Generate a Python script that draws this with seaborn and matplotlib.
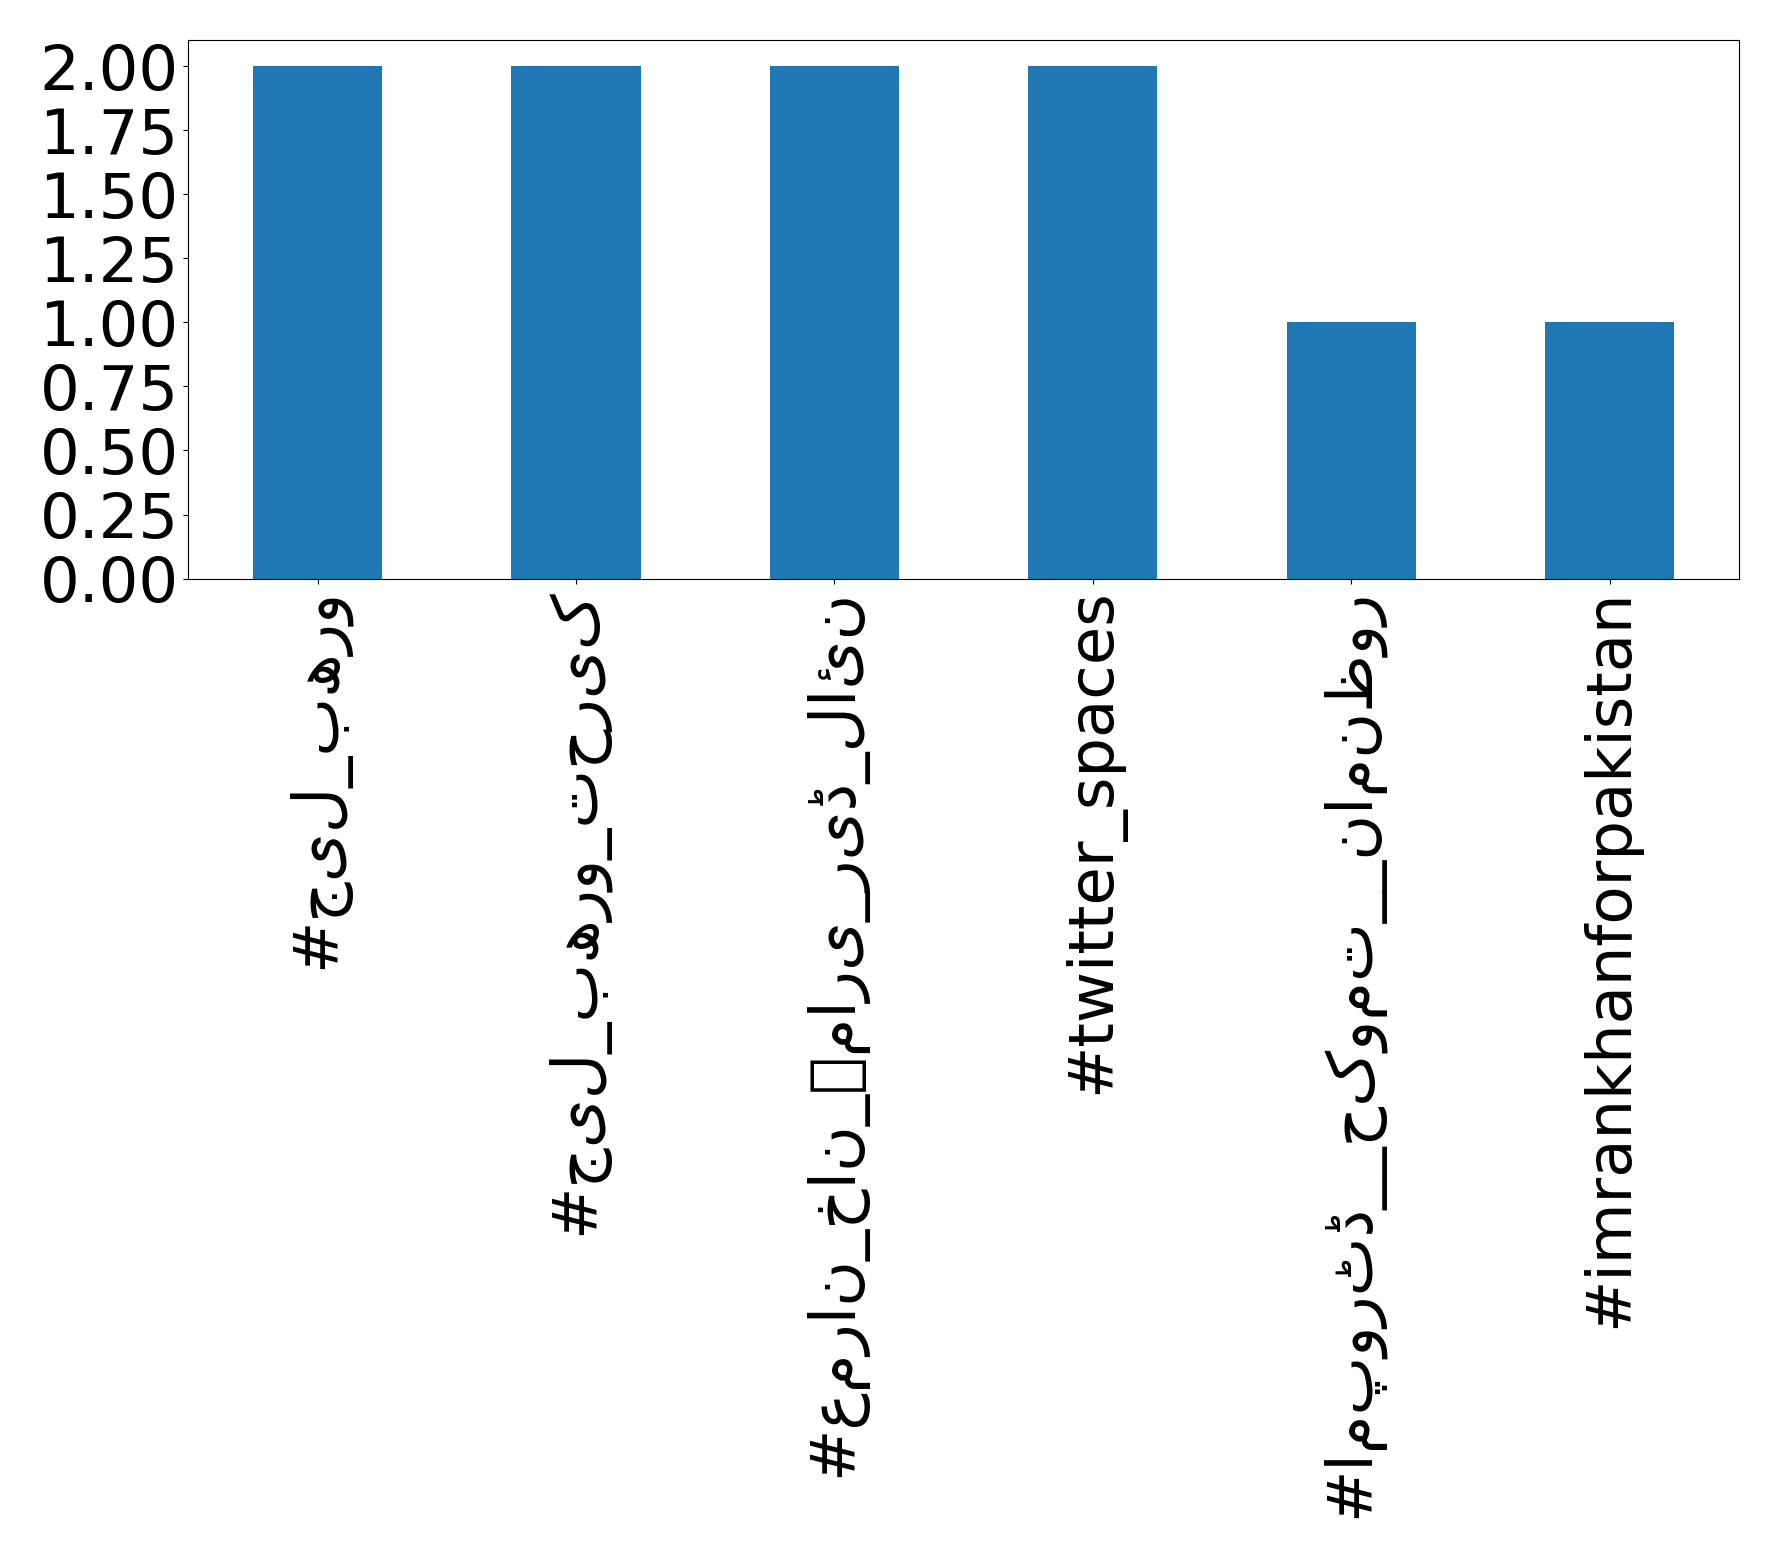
import matplotlib
matplotlib.use("Agg")
import matplotlib.pyplot as plt
import seaborn as sns
import pandas as pd

hashtags = [
    "#جیل_بھرو",
    "#جیل_بھرو_تحریک",
    "#عمران_خان_ہماری_ریڈ_لائن",
    "#twitter_spaces",
    "#امپورٹڈ__حکومت__نامنظور",
    "#imrankhanforpakistan",
]
counts = [2, 2, 2, 2, 1, 1]
ytick_values = [0, 0.25, 0.5, 0.75, 1.0, 1.25, 1.5, 1.75, 2.0]
ytick_labels = ["0.00", "0.25", "0.50", "0.75", "1.00", "1.25", "1.50", "1.75", "2.00"]

df = pd.DataFrame({"hashtag": hashtags, "count": counts})

plt.rcParams['font.family'] = ['DejaVu Sans', 'Noto Sans', 'Liberation Sans',
                               'Noto Sans CJK SC']
fig, ax = plt.subplots(figsize=(17.78, 15.57), dpi=100)
fig.subplots_adjust(left=0.106, right=0.978, top=0.974, bottom=0.6284)

sns.barplot(data=df, x="hashtag", y="count", color="#1f77b4", saturation=1,
            width=0.5, ax=ax, errorbar=None)
ax.set_xlim(-0.5, 5.5)
ax.set_ylim(0, 2.1)
ax.set_yticks(ytick_values)
ax.set_yticklabels(ytick_labels)
ax.set_xlabel("")
ax.set_ylabel("")
ax.tick_params(axis="both", labelsize=45)
for lbl in ax.get_xticklabels():
    lbl.set_rotation(90)

fig.savefig("out.png", dpi=100)
